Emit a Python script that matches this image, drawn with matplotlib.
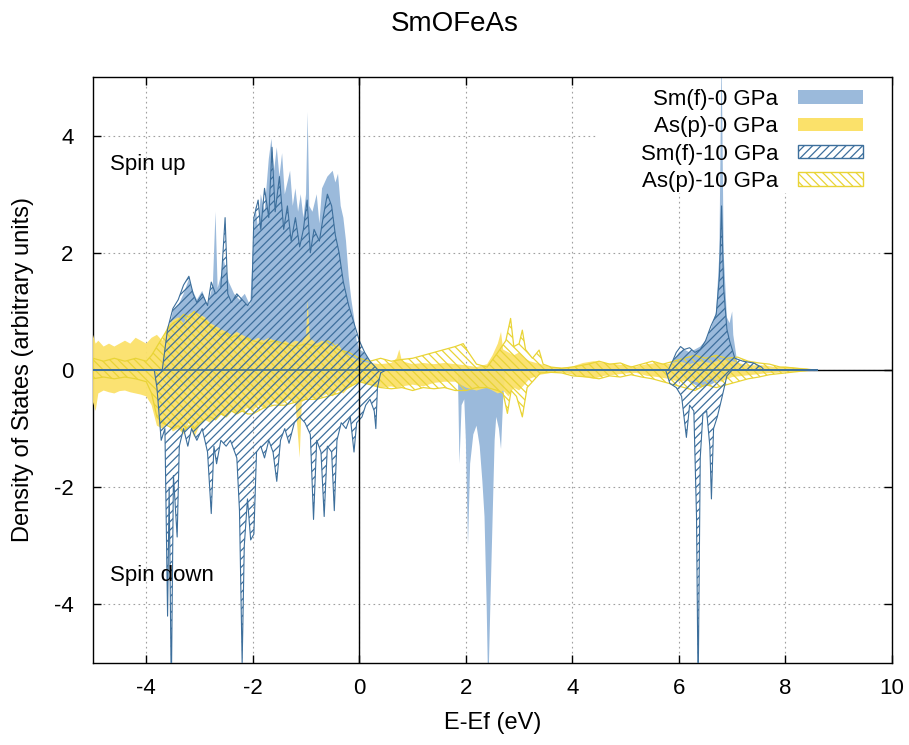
import matplotlib
matplotlib.use("Agg")
import matplotlib.pyplot as plt
from matplotlib.patches import Patch, Rectangle

plt.rcParams['font.family'] = ['Liberation Sans', 'DejaVu Sans']
plt.rcParams['axes.unicode_minus'] = False
plt.rcParams['hatch.linewidth'] = 0.9

# ---- data (energy in eV, DOS in arbitrary units) ----
# Sm(f) 0 GPa, spin up / down
e_sm0_up = [-3.75, -3.6, -3.5, -3.4, -3.3, -3.2, -3.15, -3.05, -2.95, -2.85, -2.75, -2.7, -2.66,
            -2.6, -2.55, -2.5, -2.45, -2.35, -2.25, -2.15, -2.05, -2.0, -1.95, -1.9, -1.85, -1.78,
            -1.7, -1.65, -1.6, -1.55, -1.5, -1.45, -1.4, -1.35, -1.3, -1.25, -1.2, -1.15, -1.1,
            -1.05, -1.0, -0.97, -0.94, -0.88, -0.8, -0.75, -0.7, -0.6, -0.5, -0.45, -0.4, -0.35,
            -0.3, -0.25, -0.2, -0.15, -0.1, -0.05, 0.0, 0.1, 0.2, 0.3, 0.4,
            5.8, 5.9, 6.0, 6.1, 6.2, 6.3, 6.4, 6.5, 6.6, 6.7, 6.76, 6.8, 6.84, 6.9, 6.95, 7.0,
            7.02, 7.1, 7.15]
sm0_up = [0, 0.6, 1.0, 1.1, 1.3, 1.55, 1.4, 1.2, 1.35, 1.1, 1.45, 2.7, 1.4,
          1.6, 1.9, 1.7, 1.5, 1.3, 1.2, 1.3, 1.1, 2.0, 2.8, 2.4, 3.0, 2.7,
          3.6, 3.95, 3.4, 3.8, 3.3, 3.7, 3.0, 3.2, 3.4, 2.8, 3.1, 2.7, 3.0,
          2.6, 3.0, 4.4, 2.8, 2.7, 3.0, 2.5, 3.1, 3.3, 3.4, 3.2, 3.35, 2.8,
          2.6, 2.2, 1.6, 1.2, 0.9, 0.5, 0.35, 0.3, 0.15, 0.05, 0,
          0, 0.15, 0.3, 0.35, 0.3, 0.35, 0.4, 0.5, 0.7, 1.0, 2.0, 5.5, 2.0, 0.9, 0.8, 1.0,
          0.6, 0.1, 0]
e_sm0_dn = [-3.7, -3.6, -3.3, -3.0, -2.6, -2.2, -1.8, -1.4, -1.0, -0.6, -0.2, 0.1,
            1.85, 1.88, 1.92, 1.97, 2.0, 2.04, 2.08, 2.14, 2.2, 2.26, 2.31, 2.35, 2.39, 2.42,
            2.46, 2.5, 2.54, 2.57, 2.62, 2.66, 2.7, 2.74,
            6.0, 6.2, 6.4, 6.6, 6.8, 7.0]
sm0_dn = [0, -0.2, -0.3, -0.25, -0.3, -0.35, -0.3, -0.25, -0.3, -0.25, -0.2, 0,
          0, -1.6, -0.6, -0.5, -1.2, -3.0, -1.6, -1.1, -0.95, -1.3, -1.9, -2.5, -4.0, -5.5,
          -4.0, -2.6, -1.2, -0.8, -1.0, -1.35, -0.5, 0,
          0, -0.2, -0.3, -0.25, -0.15, 0]

# Sm(f) 10 GPa, spin up / down
e_sm10_up = [-5.0, -3.7, -3.6, -3.5, -3.4, -3.3, -3.2, -3.12, -3.05, -2.95, -2.85, -2.78, -2.7,
             -2.6, -2.52, -2.47, -2.4, -2.3, -2.2, -2.1, -2.02, -1.98, -1.9, -1.85, -1.78, -1.7,
             -1.64, -1.58, -1.5, -1.42, -1.35, -1.28, -1.2, -1.12, -1.05, -0.98, -0.92, -0.85,
             -0.75, -0.68, -0.6, -0.52, -0.45, -0.38, -0.3, -0.2, -0.1, 0.0, 0.1, 0.2, 0.35,
             5.8, 5.88, 5.95, 6.03, 6.1, 6.2, 6.3, 6.4, 6.5, 6.6, 6.7, 6.76, 6.8, 6.84, 6.9,
             6.95, 7.05, 7.2, 7.4, 7.55, 7.6, 8.6]
sm10_up = [0, 0, 0.7, 1.05, 1.2, 1.45, 1.6, 1.3, 1.15, 1.3, 1.1, 1.5, 1.3,
           1.4, 2.6, 1.3, 1.15, 1.3, 1.2, 1.1, 1.2, 2.6, 2.9, 2.4, 3.1, 2.6,
           3.8, 2.7, 3.3, 2.4, 2.8, 2.2, 2.6, 2.1, 2.4, 2.9, 2.0, 2.4,
           2.2, 2.6, 3.0, 2.8, 2.3, 2.0, 1.5, 1.1, 0.8, 0.5, 0.3, 0.15, 0,
           0, 0.15, 0.3, 0.4, 0.35, 0.38, 0.3, 0.35, 0.5, 0.75, 0.95, 1.6, 2.8, 1.4, 0.7,
           0.5, 0.2, 0.15, 0.12, 0.05, 0, 0]
e_sm10_dn = [-5.0, -3.85, -3.8, -3.72, -3.65, -3.6, -3.57, -3.53, -3.49, -3.42, -3.38, -3.3,
             -3.22, -3.15, -3.05, -2.95, -2.85, -2.78, -2.73, -2.68, -2.6, -2.5, -2.42, -2.3,
             -2.25, -2.2, -2.16, -2.1, -2.04, -1.98, -1.93, -1.85, -1.78, -1.7, -1.62, -1.55,
             -1.48, -1.4, -1.32, -1.22, -1.12, -1.02, -0.92, -0.86, -0.8, -0.72, -0.66, -0.6,
             -0.52, -0.47, -0.42, -0.34, -0.25, -0.17, -0.1, -0.05, 0.05, 0.12, 0.2, 0.28,
             0.31, 0.34, 0.4, 0.5,
             5.75, 5.83, 5.95, 6.05, 6.14, 6.2, 6.28, 6.33, 6.36, 6.4, 6.45, 6.52, 6.58, 6.61,
             6.65, 6.72, 6.8, 6.9, 7.0, 8.6]
sm10_dn = [0, 0, -0.3, -1.2, -1.0, -4.2, -2.0, -5.5, -1.8, -2.85, -1.3, -1.0,
           -1.3, -1.0, -1.2, -1.0, -1.4, -2.45, -1.3, -1.6, -1.2, -1.3, -1.2, -1.5,
           -2.4, -5.0, -3.0, -2.2, -2.9, -2.8, -1.4, -1.3, -1.5, -1.2, -1.4, -1.9,
           -1.2, -1.0, -1.25, -0.9, -0.8, -0.9, -1.1, -2.55, -1.2, -1.4, -2.5, -1.3,
           -1.4, -2.4, -1.2, -0.9, -1.0, -0.8, -1.4, -0.9, -0.8, -0.6, -0.5, -0.7,
           -1.0, -0.3, -0.05, 0,
           0, -0.23, -0.3, -0.45, -1.15, -0.6, -0.7, -2.5, -5.5, -1.5, -0.75, -0.7, -1.3, -2.2,
           -1.0, -0.8, -0.5, -0.1, 0, 0]

# As(p) 0 GPa, spin up / down
e_as0 = [-5.0, -4.95, -4.9, -4.8, -4.7, -4.6, -4.5, -4.4, -4.3, -4.2, -4.1, -4.0, -3.9, -3.8,
         -3.7, -3.6, -3.5, -3.4, -3.3, -3.2, -3.1, -3.0, -2.9, -2.8, -2.7, -2.6, -2.5, -2.4,
         -2.3, -2.2, -2.1, -2.0, -1.9, -1.8, -1.7, -1.6, -1.5, -1.4, -1.3, -1.2, -1.12, -1.08,
         -1.0, -0.97, -0.93, -0.8, -0.7, -0.6, -0.5, -0.4, -0.3, -0.2, -0.1, 0.0, 0.2, 0.4,
         0.6, 0.7, 0.75, 0.8, 1.0, 1.2, 1.4, 1.6, 1.8, 2.0, 2.2, 2.4, 2.5, 2.6, 2.66, 2.7,
         2.8, 2.9, 3.0, 3.1, 3.2, 3.4, 3.6, 3.8, 4.0, 4.2, 4.4, 4.6, 4.8, 5.0, 5.2, 5.4, 5.6,
         5.8, 6.0, 6.2, 6.4, 6.6, 6.8, 7.0, 7.2, 7.4, 7.6, 7.8, 8.0, 8.2, 8.4, 8.6]
as0_up = [0.6, 0.45, 0.5, 0.4, 0.45, 0.4, 0.45, 0.5, 0.45, 0.55, 0.5, 0.45, 0.55, 0.6,
          0.5, 0.75, 0.85, 0.9, 0.8, 0.95, 1.0, 0.95, 0.9, 0.8, 0.75, 0.7, 0.65, 0.6,
          0.65, 0.6, 0.55, 0.5, 0.55, 0.5, 0.55, 0.5, 0.45, 0.5, 0.45, 0.5, 0.48, 0.47,
          0.6, 1.2, 0.55, 0.45, 0.5, 0.45, 0.4, 0.45, 0.3, 0.25, 0.2, 0.15, 0.12, 0.1,
          0.12, 0.2, 0.35, 0.15, 0.1, 0.12, 0.1, 0.12, 0.1, 0.08, 0.05, 0.1, 0.25, 0.45, 0.65, 0.35,
          0.3, 0.25, 0.3, 0.2, 0.15, 0.1, 0.05, 0.04, 0.06, 0.12, 0.15, 0.12, 0.1, 0.08, 0.06, 0.1, 0.12,
          0.1, 0.15, 0.1, 0.15, 0.12, 0.18, 0.15, 0.1, 0.08, 0.08, 0.05, 0.06, 0.04, 0.03, 0]
as0_dn = [-0.55, -0.7, -0.4, -0.35, -0.38, -0.4, -0.36, -0.35, -0.38, -0.4, -0.42, -0.45, -0.6, -0.95,
          -1.0, -0.9, -1.05, -1.0, -1.1, -0.9, -1.15, -0.95, -0.85, -0.9, -0.8, -0.75, -0.8, -0.7,
          -0.75, -0.7, -0.65, -0.7, -0.6, -0.65, -0.6, -0.55, -0.6, -0.55, -0.5, -0.55, -1.5, -0.55,
          -0.5, -0.48, -0.47, -0.5, -0.45, -0.4, -0.45, -0.35, -0.4, -0.3, -0.25, -0.2, -0.25, -0.3,
          -0.28, -0.3, -0.3, -0.28, -0.25, -0.28, -0.22, -0.2, -0.2, -0.3, -0.35, -0.3, -0.35, -0.4, -0.38, -0.35,
          -0.45, -0.3, -0.35, -0.25, -0.15, -0.08, -0.05, -0.04, -0.08, -0.12, -0.15, -0.1, -0.08, -0.06, -0.05, -0.1, -0.12,
          -0.15, -0.2, -0.18, -0.22, -0.15, -0.2, -0.12, -0.1, -0.08, -0.06, -0.05, -0.04, -0.03, -0.02, 0]

# As(p) 10 GPa, spin up / down
e_as10_up = [-5.0, -4.8, -4.6, -4.4, -4.2, -4.0, -3.9, -3.8, -3.7, -3.6, -3.5, -3.4, -3.3, -3.2,
             -3.1, -3.0, -2.9, -2.8, -2.7, -2.6, -2.5, -2.4, -2.3, -2.2, -2.1, -2.0, -1.8, -1.6,
             -1.4, -1.2, -1.0, -0.8, -0.6, -0.5, -0.4, -0.2, 0.0, 0.2, 0.4, 0.6, 0.8, 1.0, 1.2,
             1.4, 1.6, 1.8, 1.95, 2.05, 2.2, 2.4, 2.6, 2.75, 2.84, 2.9, 3.0, 3.06, 3.12, 3.25,
             3.375, 3.45, 3.6, 3.8, 4.0, 4.3, 4.5, 4.7, 4.9, 5.1, 5.3, 5.5, 5.7, 5.9, 6.1, 6.3,
             6.5, 6.7, 6.9, 7.1, 7.3, 7.5, 7.7, 7.9, 8.1, 8.3, 8.5]
as10_up = [0.2, 0.15, 0.2, 0.15, 0.2, 0.15, 0.25, 0.4, 0.55, 0.7, 0.8, 0.85, 0.95, 0.9,
           1.0, 0.9, 0.85, 0.75, 0.7, 0.6, 0.65, 0.55, 0.6, 0.5, 0.55, 0.5, 0.45, 0.5,
           0.45, 0.4, 0.45, 0.4, 0.5, 0.45, 0.35, 0.3, 0.2, 0.15, 0.2, 0.15, 0.18, 0.2, 0.25,
           0.3, 0.35, 0.4, 0.45, 0.3, 0.1, 0.05, 0.3, 0.5, 0.88, 0.4, 0.45, 0.68, 0.35, 0.2,
           0.34, 0.1, 0.05, 0.03, 0.05, 0.1, 0.15, 0.1, 0.12, 0.05, 0.1, 0.15, 0.1, 0.15, 0.2, 0.25,
           0.2, 0.25, 0.2, 0.22, 0.15, 0.12, 0.1, 0.05, 0.04, 0.02, 0]
e_as10_dn = [-5.0, -4.8, -4.6, -4.4, -4.2, -4.0, -3.9, -3.8, -3.7, -3.6, -3.5, -3.4, -3.3, -3.2,
             -3.1, -3.0, -2.9, -2.8, -2.7, -2.6, -2.5, -2.4, -2.3, -2.2, -2.1, -2.0, -1.8, -1.6,
             -1.4, -1.2, -1.0, -0.8, -0.6, -0.4, -0.2, 0.0, 0.2, 0.4, 0.6, 0.8, 1.0, 1.2, 1.4,
             1.6, 1.8, 2.0, 2.2, 2.4, 2.6, 2.7, 2.78, 2.85, 2.95, 3.06, 3.15, 3.3, 3.4, 3.6,
             3.8, 4.0, 4.3, 4.5, 4.7, 4.9, 5.1, 5.3, 5.5, 5.7, 5.9, 6.1, 6.3, 6.5, 6.7, 6.9,
             7.1, 7.3, 7.5, 7.7, 7.9, 8.1, 8.3, 8.5]
as10_dn = [-0.15, -0.12, -0.15, -0.12, -0.15, -0.2, -0.4, -0.8, -0.9, -0.95, -1.0, -0.95, -1.05, -0.95,
           -1.0, -0.9, -0.85, -0.8, -0.85, -0.75, -0.8, -0.7, -0.75, -0.7, -0.75, -0.75, -0.65, -0.6,
           -0.6, -0.55, -0.5, -0.5, -0.45, -0.4, -0.3, -0.2, -0.25, -0.3, -0.32, -0.3, -0.35, -0.3, -0.32,
           -0.3, -0.35, -0.35, -0.3, -0.3, -0.35, -0.4, -0.74, -0.35, -0.45, -0.8, -0.3, -0.15, -0.05, -0.04,
           -0.05, -0.1, -0.12, -0.15, -0.1, -0.12, -0.08, -0.12, -0.15, -0.2, -0.25, -0.3, -0.35, -0.25, -0.3, -0.25,
           -0.2, -0.15, -0.12, -0.08, -0.06, -0.04, -0.02, 0]

labels = ['Sm(f)-0 GPa', 'As(p)-0 GPa', 'Sm(f)-10 GPa', 'As(p)-10 GPa']

sm_fill = '#9bbadb'
as_fill = '#fbe16a'
sm_edge = '#3d6f9c'
as_edge = '#e9d436'

fig = plt.figure(figsize=(9.09, 7.45), dpi=100)
ax = fig.add_axes([93/909, 1-663/745, 799/909, 586/745])

# solid fills (0 GPa)
ax.fill_between(e_sm0_up, sm0_up, 0, facecolor=sm_fill, edgecolor='none', zorder=2)
ax.fill_between(e_sm0_dn, sm0_dn, 0, facecolor=sm_fill, edgecolor='none', zorder=2)
ax.fill_between(e_as0, as0_up, 0, facecolor=as_fill, edgecolor='none', alpha=0.95, zorder=3)
ax.fill_between(e_as0, as0_dn, 0, facecolor=as_fill, edgecolor='none', alpha=0.95, zorder=3)
# hatched fills (10 GPa)
ax.fill_between(e_as10_up, as10_up, 0, facecolor='none', edgecolor=as_edge, hatch='\\\\\\\\',
                linewidth=0.9, zorder=4)
ax.fill_between(e_as10_dn, as10_dn, 0, facecolor='none', edgecolor=as_edge, hatch='\\\\\\\\',
                linewidth=0.9, zorder=4)
ax.fill_between(e_sm10_up, sm10_up, 0, facecolor='none', edgecolor=sm_edge, hatch='////',
                linewidth=0.8, zorder=5)
ax.fill_between(e_sm10_dn, sm10_dn, 0, facecolor='none', edgecolor=sm_edge, hatch='////',
                linewidth=0.8, zorder=5)

ax.axhline(0, color='black', lw=1, zorder=1.5)
ax.axvline(0, color='black', lw=1, zorder=6)

ax.set_xlim(-5, 10)
ax.set_ylim(-5, 5)
ax.set_xticks([-4, -2, 0, 2, 4, 6, 8, 10])
ax.set_yticks([-4, -2, 0, 2, 4])
ax.set_axisbelow(True)
ax.grid(True, color='#a0a0a0', linestyle=(0, (1.5, 3)), linewidth=0.8)
ax.tick_params(direction='in', length=6, width=1, top=True, right=True, labelsize=16)
ax.tick_params(axis='x', pad=11)
ax.tick_params(axis='y', pad=14)
for s in ax.spines.values():
    s.set_linewidth(1)

# white area behind the key hides the grid there
ax.add_patch(Rectangle((0.631, 0.802), 0.369, 0.198, transform=ax.transAxes,
                       facecolor='white', edgecolor='none', zorder=1))

handles = [Patch(facecolor=sm_fill, edgecolor='none'),
           Patch(facecolor=as_fill, edgecolor='none'),
           Patch(facecolor='white', edgecolor=sm_edge, hatch='////', linewidth=1),
           Patch(facecolor='white', edgecolor=as_edge, hatch='\\\\\\\\', linewidth=1)]
ax.legend(handles, labels, loc='upper right', bbox_to_anchor=(0.964, 0.98),
          frameon=False, markerfirst=False, fontsize=16, handlelength=2.93,
          handleheight=0.55, handletextpad=0.9, labelspacing=0.29, borderpad=0,
          borderaxespad=0)

ax.text(-4.68, 3.5, 'Spin up', fontsize=16, va='center', ha='left', zorder=7)
ax.text(-4.68, -3.5, 'Spin down', fontsize=16, va='center', ha='left', zorder=7)

ax.set_xlabel('E-Ef (eV)', fontsize=17, labelpad=9)
ax.set_ylabel('Density of States (arbitrary units)', fontsize=17, labelpad=14)
fig.suptitle('SmOFeAs', fontsize=20, y=0.968, va='center')

fig.savefig('out.png', dpi=100)
